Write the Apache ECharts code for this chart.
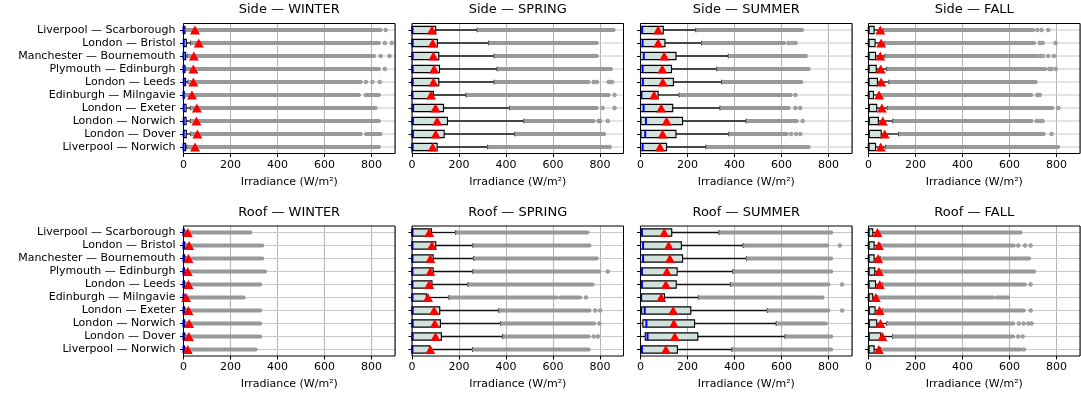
<!DOCTYPE html>
<html>
<head>
<meta charset="utf-8">
<script src="https://cdn.jsdelivr.net/npm/echarts@6/dist/echarts.min.js"></script>
<style>
html, body { margin: 0; padding: 0; background: #fff; }
#chart { width: 1081px; height: 398px; }
</style>
</head>
<body>
<div id="chart"></div>
<script>
// routes, top to bottom
var routes = ['Liverpool — Scarborough', 'London — Bristol', 'Manchester — Bournemouth', 'Plymouth — Edinburgh',
    'London — Leeds', 'Edinburgh — Milngavie', 'London — Exeter', 'London — Norwich', 'London — Dover', 'Liverpool — Norwich'];
var panelTitles = ['Side — WINTER', 'Side — SPRING', 'Side — SUMMER', 'Side — FALL',
    'Roof — WINTER', 'Roof — SPRING', 'Roof — SUMMER', 'Roof — FALL'];
var xTicks = [0, 200, 400, 600, 800];
var floorValue = 0;

// one row per panel, one value per route
var q1 = [
    [0,0,0,0,0,0,0,0,0,0],
    [0,0,0,0,0,0,0,0,0,0],
    [0,0,0,0,0,0,0,2,2,0],
    [0,0,0,0,0,0,0,0,0,0],
    [0,0,0,0,0,0,0,0,0,0],
    [0,0,0,0,0,0,0,0,0,0],
    [0,0,0,0,0,0,5,10,20,0],
    [0,0,0,0,0,0,0,0,0,0]
];
var median = [
    [0,1,0,0,1,0,1,1,1,0],
    [2,3,3,3,3,2,5,4,4,3],
    [7,9,14,9,10,4,13,23,20,9],
    [1,1,1,1,1,1,2,2,2,1],
    [0,0,0,0,0,0,0,0,0,0],
    [2,2,2,2,2,2,3,3,3,2],
    [6,11,11,6,6,3,18,25,30,6],
    [1,1,1,1,1,1,2,2,2,1]
];
var q3 = [
    [6,12,9,6,9,3,11,11,12,9],
    [101,108,114,117,114,91,134,151,137,107],
    [97,104,151,132,140,75,137,179,151,111],
    [24,28,30,33,38,21,35,42,54,30],
    [3,5,5,4,4,2,5,5,5,4],
    [83,101,90,90,85,61,118,121,125,75],
    [133,174,179,156,152,102,214,230,244,157],
    [18,24,24,27,30,18,28,35,52,24]
];
var whiskerHigh = [
    [8,31,17,10,20,6,30,30,31,15],
    [278,327,350,363,350,231,416,477,438,322],
    [236,260,374,325,346,165,339,450,377,279],
    [64,68,71,78,88,42,81,104,129,74],
    [8,10,10,9,9,6,10,10,10,9],
    [186,260,263,260,239,158,370,377,386,258],
    [335,437,451,394,384,247,540,578,616,390],
    [40,50,50,55,60,38,60,78,103,52]
];
var means = [
    [49,65,44,42,42,36,57,55,59,49],
    [85,88,91,94,91,81,100,107,101,88],
    [75,75,101,93,95,58,88,111,94,83],
    [50,54,50,52,54,45,57,61,69,52],
    [18,24,21,18,21,11,21,24,23,18],
    [73,85,78,78,73,68,94,97,100,78],
    [101,120,125,112,108,88,139,142,146,108],
    [38,44,41,44,48,31,47,51,59,44]
];
// runs of outliers packed so close they touch: [from, to]
var outlierBands = [
    [[[14,839]], [[37,832]], [[23,811]], [[16,832]], [[26,755]], [[12,747],[787,832]], [[36,818]], [[36,832]], [[37,755],[776,839]], [[21,832]]],
    [[[284,858]], [[333,787]], [[356,787]], [[369,847]], [[356,752]], [[237,837]], [[422,787]], [[483,773]], [[444,818]], [[328,830]]],
    [[[242,688]], [[266,612]], [[380,705]], [[331,716]], [[352,685]], [[171,640]], [[345,631]], [[456,666]], [[383,623]], [[285,716]]],
    [[[70,701]], [[74,705]], [[77,719]], [[84,752]], [[94,712]], [[48,694]], [[87,783]], [[110,694]], [[135,746]], [[80,807]]],
    [[[12,285]], [[14,336]], [[14,336]], [[13,348]], [[13,327]], [[10,257]], [[14,327]], [[14,327]], [[14,327]], [[13,307]]],
    [[[192,747]], [[266,756]], [[269,787]], [[266,797]], [[245,769]], [[164,616],[630,716]], [[376,756]], [[383,776]], [[392,752]], [[264,752]]],
    [[[341,812]], [[443,795]], [[457,812]], [[400,812]], [[390,800]], [[253,775]], [[546,800]], [[584,790]], [[622,812]], [[396,812]]],
    [[[46,647]], [[56,619]], [[56,684]], [[61,705]], [[66,666]], [[44,531],[545,595]], [[66,661]], [[84,616]], [[109,616]], [[58,647]]]
];
// single outliers standing apart
var outlierPoints = [
    [[860], [857,886], [839,877], [857], [776,804,835], [776], [], [], [], []],
    [[], [], [], [], [773,787,837,851], [862], [811,862], [794,801,833], [], [841]],
    [[], [630,645,660], [], [], [], [659], [659,680], [690], [641,662,680], []],
    [[718,736,765], [729,741,796], [732,743,765,789], [769,779,797], [], [718,729], [808], [715,729,741], [779], []],
    [[], [], [], [], [], [], [], [], [], []],
    [[], [], [], [833], [], [740], [780,801], [797], [773,791], []],
    [[], [848], [], [], [858], [], [858], [], [], []],
    [[], [637,666,690], [], [], [690], [], [690], [640,660,680,694], [637,656], [661]]
];

var chart = echarts.init(document.getElementById('chart'));
var font = 'DejaVu Sans';
var lefts = [183.5, 412, 640.5, 868.5];
var tops = [23.5, 226];
var W = 211.5, H = 130;

function rowRenderer(p) {
    return function (params, api) {
        var i = api.value(0);
        var yc = api.coord([0, i])[1];
        var h = api.size([0, 1])[1] * 0.56;
        var X = function (v) { return api.coord([v, i])[0]; };
        var lo = X(floorValue), b1 = X(api.value(1)), md = X(api.value(2)), b3 = X(api.value(3)), wh = X(api.value(4));
        var wStyle = {stroke: '#111', lineWidth: 1.3};
        var kids = [];
        // row grid line
        kids.push({type: 'line', shape: {x1: X(0), y1: yc, x2: X(900), y2: yc}, style: {stroke: '#c8c8c8', lineWidth: 1}});
        if (b1 > lo) kids.push({type: 'line', shape: {x1: lo, y1: yc, x2: b1, y2: yc}, style: wStyle});
        kids.push({type: 'line', shape: {x1: b3, y1: yc, x2: wh, y2: yc}, style: wStyle});
        kids.push({type: 'line', shape: {x1: wh, y1: yc - h * 0.3, x2: wh, y2: yc + h * 0.3}, style: wStyle});
        kids.push({type: 'rect', shape: {x: b1, y: yc - h / 2, width: Math.max(b3 - b1, 0.5), height: h},
            style: {fill: '#cfe2db', stroke: '#000', lineWidth: 1.1}});
        kids.push({type: 'line', shape: {x1: md, y1: yc - h / 2, x2: md, y2: yc + h / 2}, style: {stroke: '#0000ff', lineWidth: 2}});
        outlierBands[p][i].forEach(function (b) {
            kids.push({type: 'line', shape: {x1: X(b[0]), y1: yc, x2: X(b[1]), y2: yc},
                style: {stroke: '#999999', lineWidth: 3.8, lineCap: 'round'}});
        });
        return {type: 'group', children: kids};
    };
}

var grids = [], xAxes = [], yAxes = [], titles = [], series = [];
for (var p = 0; p < 8; p++) {
    var col = p % 4, row = Math.floor(p / 4);
    grids.push({left: lefts[col], top: tops[row], width: W, height: H, show: true,
        borderColor: '#000', borderWidth: 1, backgroundColor: 'transparent', z: 10});
    titles.push({text: panelTitles[p], left: lefts[col] + W / 2, top: row ? 206 : 3, textAlign: 'center', padding: 0,
        textStyle: {fontSize: 13, fontWeight: 'normal', color: '#000', fontFamily: font}});
    xAxes.push({
        gridIndex: p, type: 'value', min: 0, max: 900, interval: 200,
        name: 'Irradiance (W/m²)', nameLocation: 'middle', nameGap: 23,
        nameTextStyle: {fontSize: 11, color: '#000', fontFamily: font},
        axisLine: {show: false},
        axisTick: {show: true, length: 3.5, lineStyle: {color: '#000'}},
        axisLabel: {fontSize: 11, color: '#000', margin: 6, fontFamily: font, showMaxLabel: false,
            formatter: function (v) { return xTicks.indexOf(v) >= 0 ? String(v) : ''; }},
        splitLine: {show: true, lineStyle: {color: '#b4b4b4', width: 1}}
    });
    yAxes.push({
        gridIndex: p, type: 'category', inverse: true, data: routes,
        axisLine: {show: false},
        axisTick: {show: true, alignWithLabel: true, interval: 0, length: 3.5, lineStyle: {color: '#000'}},
        axisLabel: {show: col === 0, interval: 0, fontSize: 11, color: '#000', margin: 8, fontFamily: font},
        splitLine: {show: false}
    });
    series.push({
        type: 'custom', xAxisIndex: p, yAxisIndex: p, z: 2,
        renderItem: rowRenderer(p),
        encode: {x: [1, 2, 3, 4], y: 0},
        data: routes.map(function (r, i) { return [i, q1[p][i], median[p][i], q3[p][i], whiskerHigh[p][i]]; })
    });
    var pts = [];
    outlierPoints[p].forEach(function (list, i) {
        list.forEach(function (v) { pts.push([v, i]); });
    });
    series.push({
        type: 'scatter', xAxisIndex: p, yAxisIndex: p, z: 3, symbol: 'circle', symbolSize: 3.8,
        itemStyle: {color: '#a4a4a4', borderColor: '#7a7a7a', borderWidth: 0.5, opacity: 1},
        data: pts
    });
    series.push({
        type: 'scatter', xAxisIndex: p, yAxisIndex: p, z: 4, symbol: 'triangle', symbolSize: [10, 9],
        itemStyle: {color: '#ff0000', opacity: 1},
        data: means[p].map(function (m, i) { return [m, i]; })
    });
}

chart.setOption({
    animation: false,
    backgroundColor: '#fff',
    title: titles,
    grid: grids,
    xAxis: xAxes,
    yAxis: yAxes,
    series: series
});
</script>
</body>
</html>
